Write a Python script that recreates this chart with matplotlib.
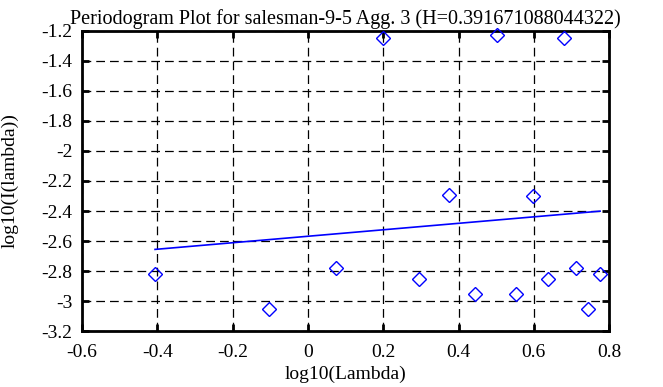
import matplotlib
matplotlib.use('Agg')
from matplotlib import pyplot as plt

# periodogram points, log10(lambda) vs log10(I(lambda))
log_lambda = [-0.406, -0.104, 0.074, 0.200, 0.296, 0.376, 0.444,
              0.502, 0.553, 0.599, 0.639, 0.679, 0.713, 0.745, 0.775]
log_I = [-2.818, -3.055, -2.778, -1.247, -2.853, -2.295, -2.953,
         -1.225, -2.953, -2.298, -2.853, -1.249, -2.778, -3.051, -2.820]

# least squares fit line end points
fit_x = [-0.406, 0.776]
fit_y = [-2.656, -2.401]

title = 'Periodogram Plot for salesman-9-5 Agg. 3 (H=0.391671088044322)'
xticks = [-0.6, -0.4, -0.2, 0, 0.2, 0.4, 0.6, 0.8]
yticks = [-3.2, -3, -2.8, -2.6, -2.4, -2.2, -2, -1.8, -1.6, -1.4, -1.2]

plt.rcParams['font.family'] = ['Liberation Serif', 'DejaVu Serif']
plt.rcParams['font.size'] = 14

fig = plt.figure(figsize=(6.63, 3.87), dpi=100)
ax = fig.add_axes([0.1237, 0.1447, 0.795, 0.7752])

ax.plot(fit_x, fit_y, color='#0000ff', lw=1.2, zorder=3)
ax.plot(log_lambda, log_I, linestyle='none', marker='D', markersize=7,
        markerfacecolor='none', markeredgecolor='#0000ff', markeredgewidth=1,
        clip_on=False, zorder=4)

ax.set_xlim(-0.6, 0.8)
ax.set_ylim(-3.2, -1.2)
ax.set_xticks(xticks)
ax.set_yticks(yticks)
ax.set_xticklabels(['%g' % v for v in xticks])
ax.set_yticklabels(['%g' % v for v in yticks])

ax.grid(True, color='black', linestyle=(0, (7, 4)), linewidth=0.9)
ax.tick_params(direction='in', length=5, width=2, top=True, right=True)
ax.tick_params(axis='x', pad=9)
ax.tick_params(axis='y', pad=7)
for sp in ax.spines.values():
    sp.set_linewidth(2)

ax.set_title(title, fontsize=14.5, pad=5)
ax.set_xlabel('log10(Lambda)', labelpad=4)
ax.set_ylabel('log10(I(lambda))', labelpad=16)

fig.savefig('out.png', dpi=100)
